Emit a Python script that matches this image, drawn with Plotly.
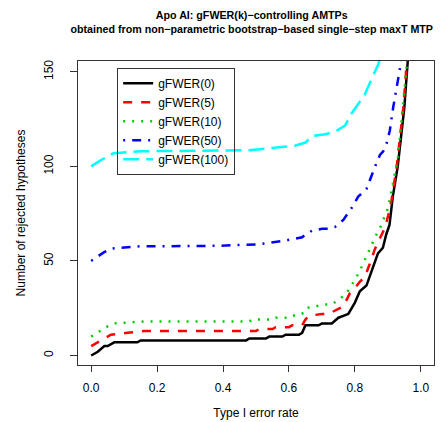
import plotly.graph_objects as go

# ---- data ----
series_names = ["gFWER(0)", "gFWER(5)", "gFWER(10)", "gFWER(50)", "gFWER(100)"]

x_k0 = [0, 0.02, 0.04, 0.05, 0.07, 0.14, 0.15, 0.47, 0.48, 0.53, 0.54, 0.58, 0.59, 0.63,
        0.64, 0.65, 0.69, 0.70, 0.73, 0.75, 0.765, 0.78, 0.80, 0.815, 0.835, 0.85, 0.87,
        0.885, 0.895, 0.905, 0.915, 0.93, 0.94, 0.95, 0.955, 0.962, 0.975]
y_k0 = [0, 2, 5, 5, 7, 7, 8, 8, 9, 9, 10, 10, 11, 11,
        12, 16, 16, 17, 17, 20, 21, 22, 28, 34, 37, 44, 54,
        57, 64, 69, 84, 100, 114, 131, 143, 156, 190]

x_k5 = [0, 0.02, 0.04, 0.06, 0.11, 0.16, 0.50, 0.51, 0.55, 0.56, 0.60, 0.61, 0.64, 0.65,
        0.66, 0.70, 0.72, 0.75, 0.765, 0.785, 0.80, 0.815, 0.83, 0.845, 0.86, 0.876,
        0.891, 0.901, 0.911, 0.927, 0.937, 0.947, 0.953, 0.959, 0.975]
y_k5 = [5, 7, 9, 11, 12, 13, 13, 14, 14, 15, 15, 16, 16, 19,
        21, 22, 22, 24.5, 26, 33, 35.6, 39, 41.5, 48.4, 56, 62,
        67.4, 74, 82, 100, 114, 131, 145, 156, 195]

x_k10 = [0, 0.024, 0.045, 0.07, 0.16, 0.48, 0.49, 0.55, 0.56, 0.60, 0.61, 0.64, 0.65, 0.68,
         0.71, 0.73, 0.755, 0.775, 0.79, 0.805, 0.82, 0.835, 0.845, 0.86, 0.871, 0.881,
         0.891, 0.901, 0.916, 0.931, 0.941, 0.951, 0.957, 0.975]
y_k10 = [10, 12.6, 15, 17, 18, 18, 19, 19, 20, 20, 21, 22, 25, 26,
         27, 27, 30, 33, 37, 41.5, 46.7, 52.7, 56, 62, 66, 69,
         74, 78, 91.5, 105, 123, 140, 153, 200]

x_k50 = [0, 0.024, 0.037, 0.06, 0.10, 0.14, 0.38, 0.50, 0.58, 0.64, 0.65, 0.67, 0.70, 0.72,
         0.74, 0.765, 0.79, 0.81, 0.835, 0.85, 0.866, 0.876, 0.886, 0.896, 0.906, 0.916,
         0.926, 0.936, 0.95]
y_k50 = [50, 52.7, 54.4, 56.5, 57, 57.7, 58, 58.7, 60.5, 62.5, 64, 66, 67, 67,
         68, 71.7, 78, 84, 88, 95, 102, 106, 108, 112, 119, 131,
         140, 151, 175]

x_k100 = [0, 0.027, 0.068, 0.13, 0.15, 0.48, 0.57, 0.62, 0.65, 0.67, 0.71, 0.74, 0.77, 0.79,
          0.81, 0.83, 0.845, 0.86, 0.871, 0.89]
y_k100 = [100, 103, 107, 107.5, 108, 108.5, 110, 111, 112.6, 116, 117, 118.4, 121.5, 128,
          133, 138, 144, 150, 154, 165]

x_ticks = [0.0, 0.2, 0.4, 0.6, 0.8, 1.0]
x_tick_labels = ["0.0", "0.2", "0.4", "0.6", "0.8", "1.0"]
y_ticks = [0, 50, 100, 150]
y_tick_labels = ["0", "50", "100", "150"]

# ---- styles ----
xs = [x_k0, x_k5, x_k10, x_k50, x_k100]
ys = [y_k0, y_k5, y_k10, y_k50, y_k100]
colors = ["#000000", "#FF0000", "#00CD00", "#0000FF", "#00FFFF"]
dashes = ["solid", "9px,9px", "2px,7px", "2px,7px,9px,7px", "16px,7px"]

FONT = "Liberation Sans, Arial, Helvetica, sans-serif"

fig = go.Figure()
for name, x, y, c, d in zip(series_names, xs, ys, colors, dashes):
    fig.add_trace(go.Scatter(x=x, y=y, mode="lines", name=name,
                             line=dict(color=c, width=2.5, dash=d)))

fig.update_layout(
    width=445, height=422,
    margin=dict(l=70, r=19, t=53, b=59),
    paper_bgcolor="white", plot_bgcolor="white",
    font=dict(family=FONT, size=12, color="black"),
    title=dict(
        text="<b>Apo AI: gFWER(k)\u2212controlling AMTPs<br>"
             "obtained from non\u2212parametric bootstrap\u2212based single\u2212step maxT MTP</b>",
        x=0.488, xref="paper", xanchor="center",
        y=1 - 11 / 422, yref="container", yanchor="top",
        font=dict(family=FONT, size=10.7, color="black"),
    ),
    showlegend=True,
    legend=dict(
        x=0.11, y=0.978, xanchor="left", yanchor="top",
        bgcolor="rgba(0,0,0,0)", bordercolor="#333333", borderwidth=1,
        font=dict(family=FONT, size=12, color="black"),
        itemwidth=30, tracegroupgap=0,
    ),
)

fig.update_xaxes(
    range=[-0.04, 1.04], tickvals=x_ticks, ticktext=x_tick_labels,
    showgrid=False, zeroline=False,
    showline=True, linecolor="#333333", linewidth=1, mirror=True,
    ticks="outside", ticklen=6, tickcolor="#333333",
    ticklabelstandoff=6,
    title=dict(text="Type I error rate", standoff=14, font=dict(size=12)),
)
fig.update_yaxes(
    range=[-5.0, 155.7], tickvals=y_ticks, ticktext=y_tick_labels,
    tickangle=-90,
    showgrid=False, zeroline=False,
    showline=True, linecolor="#333333", linewidth=1, mirror=True,
    ticks="outside", ticklen=7, tickcolor="#333333",
    ticklabelstandoff=12,
    title=dict(text="Number of rejected hypotheses", standoff=14, font=dict(size=12)),
)

fig.write_html("out.html")
